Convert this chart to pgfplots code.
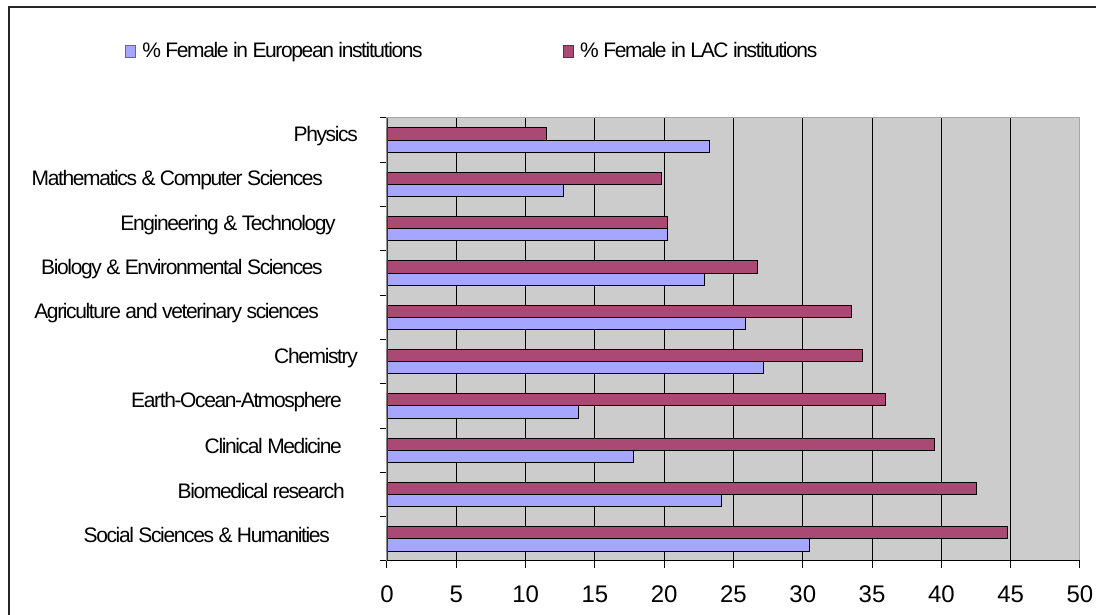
\documentclass[border=0pt]{standalone}
\usepackage{fontspec}
\setmainfont{Liberation Sans}
\newfontfamily\condfont[LetterSpace=-6.5]{Liberation Sans}
\usepackage{pgfplots}
\pgfplotsset{compat=1.18}

\definecolor{lac}{HTML}{AA4A74}
\definecolor{eu}{HTML}{A6A6FF}
\definecolor{plotbg}{HTML}{CCCCCC}

\begin{document}
\begin{tikzpicture}
\useasboundingbox (0,0) rectangle (1096pt,615pt);
\draw[line width=1.5pt, black!85] (9pt,0pt) -- (9pt,608pt) -- (1096pt,608pt);
\begin{axis}[
  at={(387pt,54pt)}, anchor=south west,
  scale only axis, width=693pt, height=443pt,
  xbar, bar width=12.2pt,
  xmin=0, xmax=50, ymin=-0.5, ymax=9.5,
  xtick={0,5,...,50},
  ytick={0,...,9},
  yticklabels={Social Sciences \& Humanities\kern28pt,
    Biomedical research\kern13pt,
    Clinical Medicine\kern16pt,
    Earth-Ocean-Atmosphere\kern16pt,
    Chemistry,
    Agriculture and veterinary sciences\kern39pt,
    Biology \& Environmental Sciences\kern35pt,
    Engineering \& Technology\kern22pt,
    Mathematics \& Computer Sciences\kern35pt,
    Physics},
  minor ytick={-0.5,0.5,...,9.5},
  tick pos=left, tick align=outside,
  major tick length=7pt, minor tick length=7pt,
  major y tick style={draw=none},
  minor tick style={black, line width=1pt},
  major x tick style={black, line width=1pt},
  xmajorgrids, major x grid style={black, line width=1pt},
  axis line style={draw=gray!70, line width=1pt},
  axis background/.style={fill=plotbg},
  /pgf/number format/assume math mode=true,
  xticklabel style={font=\fontsize{24}{24}\selectfont, anchor=base, yshift=-35pt},
  yticklabel style={font=\condfont\fontsize{21}{21}\selectfont, anchor=east, inner sep=0pt, xshift=-22pt, yshift=4pt},
  legend columns=2,
  legend style={at={(-0.383,1.151)}, anchor=west, draw=none, fill=none,
    font=\condfont\fontsize{21}{21}\selectfont,
    /tikz/every odd column/.append style={column sep=4.5pt},
    /tikz/every even column/.append style={column sep=138pt}},
]
\addplot[fill=eu, draw=black, line width=1pt, bar shift=-6.1pt,
  legend image code/.code={\draw[fill=eu, draw=eu!60!black, line width=1pt] (0pt,-6pt) rectangle (10pt,6pt);}]
  coordinates {(30.5,0) (24.1,1) (17.8,2) (13.8,3) (27.2,4) (25.9,5) (22.9,6) (20.25,7) (12.75,8) (23.3,9)};
\addplot[fill=lac, draw=black, line width=1pt, bar shift=6.1pt,
  legend image code/.code={\draw[fill=lac, draw=lac!60!black, line width=1pt] (0pt,-6pt) rectangle (10pt,6pt);}]
  coordinates {(44.8,0) (42.5,1) (39.5,2) (36.0,3) (34.3,4) (33.5,5) (26.7,6) (20.25,7) (19.8,8) (11.5,9)};
\legend{\% Female in European institutions, \% Female in LAC institutions}
\draw[black!80, line width=1.5pt] (axis cs:0,-0.5) -- (axis cs:0,9.5);
\draw[black, line width=1pt] (axis cs:0,-0.5) -- (axis cs:50,-0.5);
\end{axis}
\end{tikzpicture}
\end{document}
